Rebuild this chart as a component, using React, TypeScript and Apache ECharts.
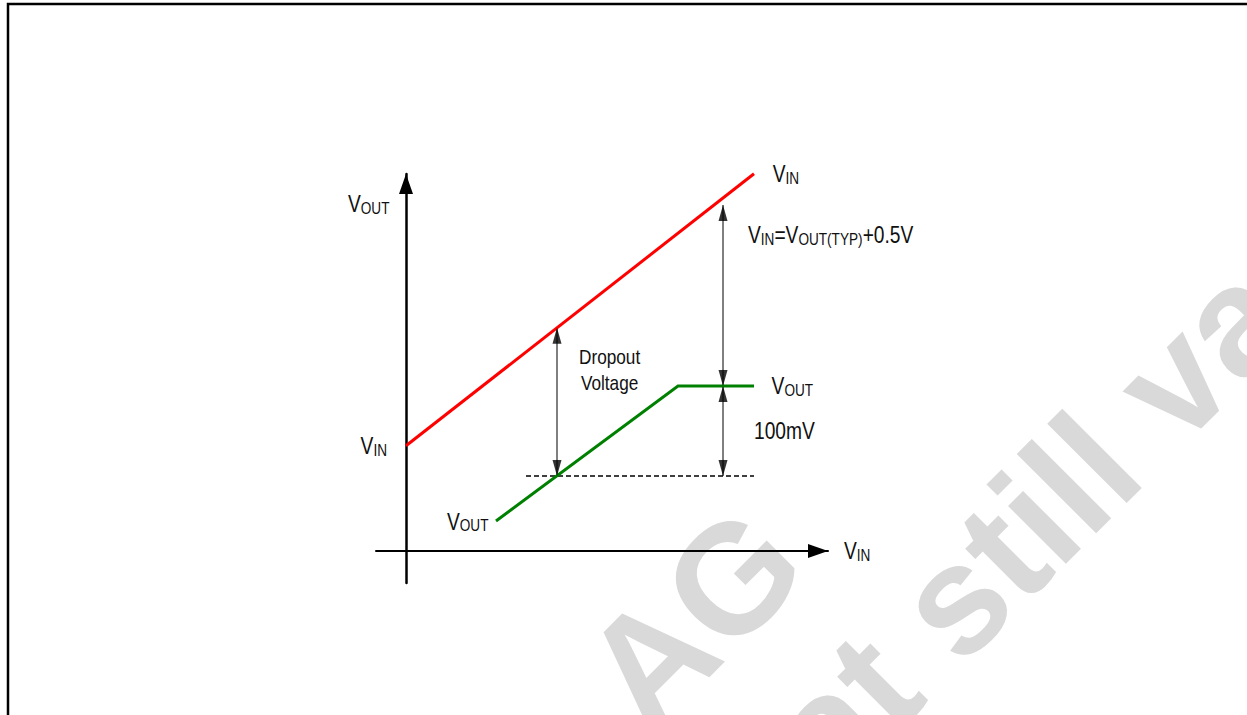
import React, { useEffect, useRef } from "react";
import * as echarts from "echarts";

// ---- data (diagram units: x = V_IN, y = V_OUT) ----
const vinLine: number[][] = [[0, 2.63], [8.7, 9.43]];
const voutLine: number[][] = [[2.25, 0.75], [6.8, 4.125], [8.7, 4.125]];
const refLevel: number[][] = [[3.0, 1.875], [8.7, 1.875]];
const dropoutArrow: number[][] = [[3.775, 1.875], [3.775, 5.58]];
const headroomArrow: number[][] = [[7.925, 4.125], [7.925, 8.65]];
const marginArrow: number[][] = [[7.925, 1.875], [7.925, 4.125]];
const upTips: number[][] = [[3.775, 5.58], [7.925, 8.65], [7.925, 4.125]];
const downTips: number[][] = [[3.775, 1.875], [7.925, 4.125], [7.925, 1.875]];

const labelTexts: string[] = [
  "{v|V}{s|OUT}",
  "{v|V}{s|IN}",
  "{v|V}{s|IN}",
  "{v|V}{s|IN}{v|=V}{s|OUT(TYP)}{v|+0.5V}",
  "{v|V}{s|OUT}",
  "{v|100mV}",
  "{v|V}{s|OUT}",
  "{v|V}{s|IN}",
];
const labelAnchors: number[][] = [
  [-1.45, 8.675],
  [-0.475, 2.625],
  [9.17, 9.425],
  [8.55, 7.9],
  [9.14, 4.125],
  [8.7, 3.0],
  [1.025, 0.74],
  [10.95, 0],
];
const labelAligns: string[] = ["left", "right", "left", "left", "left", "left", "left", "left"];
const dropoutText = "Dropout\nVoltage";
const dropoutAnchor: number[] = [5.09, 4.525];

const watermarkTexts: string[] = ["AG", "at still va"];

const FONT = "'Liberation Sans', Arial, sans-serif";

export default function App() {
  const ref = useRef<HTMLDivElement>(null);

  useEffect(() => {
    document.body.style.margin = "0";
    const chart = echarts.init(ref.current!, null, { renderer: "svg" });

    const shaft = (d: number[][]) => ({
      type: "line",
      data: d,
      symbol: "none",
      clip: false,
      silent: true,
      lineStyle: { color: "#000", width: 1 },
      z: 3,
    });

    const axisCommon = {
      axisTick: { show: false },
      axisLabel: { show: false },
      splitLine: { show: false },
    };

    chart.setOption({
      animation: false,
      backgroundColor: "#fff",
      grid: { left: 376, right: 419, top: 174, bottom: 132, containLabel: false },
      xAxis: {
        type: "value",
        min: -0.75,
        max: 10.55,
        axisLine: {
          show: true,
          onZero: true,
          symbol: ["none", "triangle"],
          symbolSize: [14, 20],
          symbolOffset: [0, -10],
          lineStyle: { color: "#000", width: 2 },
        },
        ...axisCommon,
      },
      yAxis: {
        type: "value",
        min: -0.8,
        max: 9.425,
        axisLine: {
          show: true,
          onZero: true,
          symbol: ["none", "triangle"],
          symbolSize: [14, 20],
          symbolOffset: [0, -10],
          lineStyle: { color: "#000", width: 2.5 },
        },
        ...axisCommon,
      },
      series: [
        {
          type: "line",
          name: "VIN",
          data: vinLine,
          symbol: "none",
          clip: false,
          silent: true,
          lineStyle: { color: "#ff0000", width: 3 },
          z: 4,
        },
        {
          type: "line",
          name: "VOUT",
          data: voutLine,
          symbol: "none",
          clip: false,
          silent: true,
          lineStyle: { color: "#008000", width: 3, join: "miter" },
          z: 4,
        },
        {
          type: "line",
          name: "ref",
          data: refLevel,
          symbol: "none",
          clip: false,
          silent: true,
          lineStyle: { color: "#000", width: 1.3, type: [5, 3] },
          z: 3,
        },
        shaft(dropoutArrow),
        shaft(headroomArrow),
        shaft(marginArrow),
        {
          type: "scatter",
          data: upTips,
          symbol: "triangle",
          symbolSize: [9, 16],
          symbolOffset: [0, 8],
          clip: false,
          silent: true,
          itemStyle: { color: "#000" },
          z: 5,
        },
        {
          type: "scatter",
          data: downTips,
          symbol: "triangle",
          symbolSize: [9, 16],
          symbolRotate: 180,
          symbolOffset: [0, -8],
          clip: false,
          silent: true,
          itemStyle: { color: "#000" },
          z: 5,
        },
      ],
    });

    const px = (p: number[]) => chart.convertToPixel({ gridIndex: 0 }, p) as number[];

    const rich = {
      v: { fontFamily: FONT, fontSize: 24, fill: "#111", verticalAlign: "bottom" },
      s: { fontFamily: FONT, fontSize: 17, fill: "#111", verticalAlign: "bottom" },
    };

    const labels: any[] = labelTexts.map((t, i) => {
      const p = px(labelAnchors[i]);
      return {
        type: "text",
        x: p[0],
        y: p[1],
        scaleX: 0.8,
        z: 100,
        silent: true,
        style: {
          text: t,
          align: labelAligns[i],
          verticalAlign: "middle",
          fontFamily: FONT,
          fontSize: 24,
          fill: "#111",
          rich,
        },
      };
    });

    const dp = px(dropoutAnchor);
    labels.push({
      type: "text",
      x: dp[0],
      y: dp[1],
      scaleX: 0.82,
      z: 100,
      silent: true,
      style: {
        text: dropoutText,
        align: "center",
        verticalAlign: "middle",
        fontFamily: FONT,
        fontSize: 21,
        lineHeight: 26,
        fill: "#111",
      },
    });

    const wmPos = [
      [611, 700],
      [795, 759],
    ];
    const watermark = watermarkTexts.map((t, i) => ({
      type: "text",
      x: wmPos[i][0],
      y: wmPos[i][1],
      rotation: Math.PI / 4,
      z: -10,
      silent: true,
      style: {
        text: t,
        align: "left",
        verticalAlign: "middle",
        fontFamily: FONT,
        fontWeight: "bold",
        fontSize: 155,
        fill: "#d9d9d9",
      },
    }));

    const frame = {
      type: "rect",
      z: 100,
      silent: true,
      shape: { x: 8, y: 4, width: 1300, height: 800 },
      style: { fill: "none", stroke: "#000", lineWidth: 2.5 },
    };

    chart.setOption({ graphic: [...watermark, ...labels, frame] });

    return () => chart.dispose();
  }, []);

  return <div ref={ref} style={{ width: 1247, height: 715 }} />;
}
